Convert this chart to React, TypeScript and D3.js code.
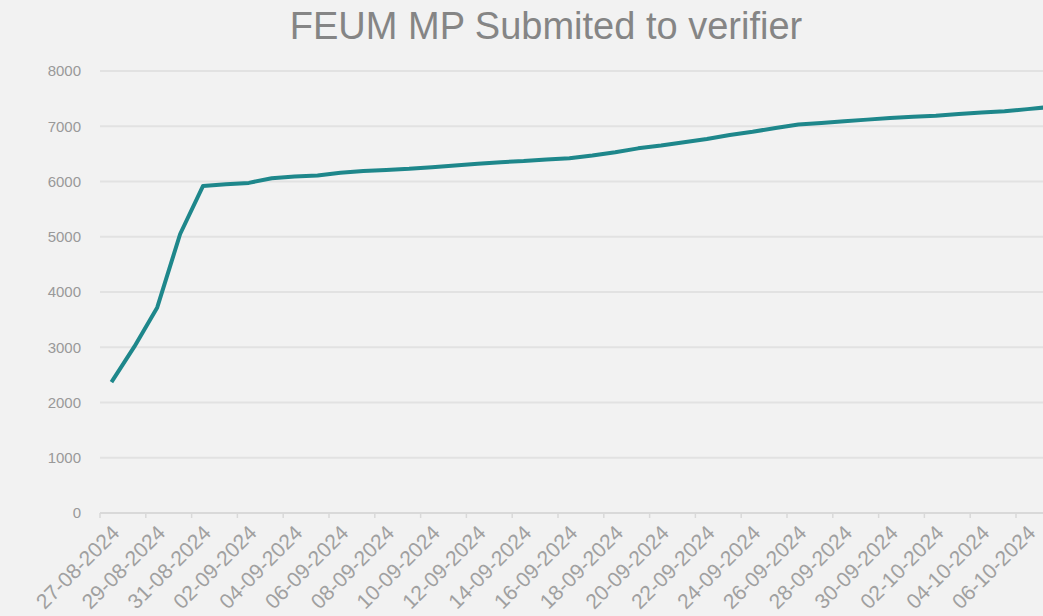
import * as d3 from "d3";

const WIDTH = 1043;
const HEIGHT = 616;

// daily categories (the chart is cut off on the right, last one is off-canvas)
const dates = [
  "27-08-2024", "28-08-2024", "29-08-2024", "30-08-2024", "31-08-2024",
  "01-09-2024", "02-09-2024", "03-09-2024", "04-09-2024", "05-09-2024",
  "06-09-2024", "07-09-2024", "08-09-2024", "09-09-2024", "10-09-2024",
  "11-09-2024", "12-09-2024", "13-09-2024", "14-09-2024", "15-09-2024",
  "16-09-2024", "17-09-2024", "18-09-2024", "19-09-2024", "20-09-2024",
  "21-09-2024", "22-09-2024", "23-09-2024", "24-09-2024", "25-09-2024",
  "26-09-2024", "27-09-2024", "28-09-2024", "29-09-2024", "30-09-2024",
  "01-10-2024", "02-10-2024", "03-10-2024", "04-10-2024", "05-10-2024",
  "06-10-2024", "07-10-2024",
];

const submitted = [
  2370, 3010, 3720, 5050, 5920,
  5950, 5975, 6060, 6090, 6110,
  6160, 6190, 6210, 6230, 6260,
  6290, 6320, 6350, 6370, 6400,
  6420, 6470, 6530, 6600, 6650,
  6710, 6770, 6840, 6900, 6970,
  7030, 7060, 7090, 7120, 7150,
  7170, 7190, 7220, 7250, 7270,
  7310, 7350,
];

const yTicks = [0, 1000, 2000, 3000, 4000, 5000, 6000, 7000, 8000];

const TITLE = "FEUM MP Submited to verifier";

const PLOT = { left: 100, top: 71, bottom: 513, band: 22.9 };

export default function App() {
  const x = d3
    .scaleBand<string>()
    .domain(dates)
    .range([PLOT.left, PLOT.left + dates.length * PLOT.band]);
  const y = d3.scaleLinear().domain([0, 8000]).range([PLOT.bottom, PLOT.top]);
  const cx = (d: string) => (x(d) || 0) + x.bandwidth() / 2;

  const line = d3
    .line<number>()
    .x((_, i) => cx(dates[i]))
    .y((v) => y(v));

  // labels / ticks every second day
  const labelled = dates.filter((_, i) => i % 2 === 0);
  const font = "'Liberation Sans', Arial, sans-serif";

  return (
    <svg
      width={WIDTH}
      height={HEIGHT}
      style={{ position: "absolute", left: 0, top: 0, background: "#f2f2f2" }}
      fontFamily={font}
    >
      <rect width={WIDTH} height={HEIGHT} fill="#f2f2f2" />
      <text
        x={546}
        y={39}
        textAnchor="middle"
        fontSize={38}
        fill="#858585"
      >
        {TITLE}
      </text>

      {yTicks.map((t) => (
        <g key={t}>
          {t > 0 && (
            <line
              x1={PLOT.left}
              x2={x.range()[1]}
              y1={y(t)}
              y2={y(t)}
              stroke="#e2e2e2"
              strokeWidth={2}
            />
          )}
          <text
            x={81}
            y={y(t)}
            dy="0.35em"
            textAnchor="end"
            fontSize={15}
            fill="#999"
          >
            {t}
          </text>
        </g>
      ))}

      {/* category axis */}
      <line
        x1={PLOT.left}
        x2={x.range()[1]}
        y1={PLOT.bottom}
        y2={PLOT.bottom}
        stroke="#d9d9d9"
        strokeWidth={2}
      />
      {labelled.map((d) => (
        <g key={d}>
          <line
            x1={x(d)}
            x2={x(d)}
            y1={PLOT.bottom}
            y2={PLOT.bottom + 5}
            stroke="#d9d9d9"
            strokeWidth={1.5}
          />
          <text
            transform={`translate(${cx(d) + 4},${PLOT.bottom + 16}) rotate(-45)`}
            textAnchor="end"
            dy="0.35em"
            fontSize={21}
            fill="#a0a0a0"
          >
            {d}
          </text>
        </g>
      ))}

      <path
        d={line(submitted) || ""}
        fill="none"
        stroke="#1e878b"
        strokeWidth={4}
        strokeLinejoin="round"
      />
    </svg>
  );
}
